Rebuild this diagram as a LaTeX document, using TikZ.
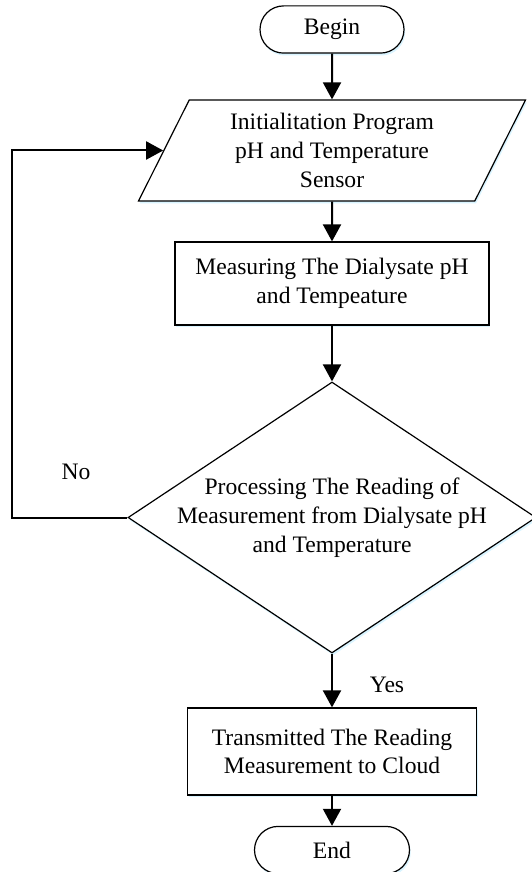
\documentclass[tikz,border=0pt]{standalone}
\usepackage{fontspec}
\setmainfont{Liberation Serif}
\usetikzlibrary{arrows.meta,shapes.geometric,shadows}

\begin{document}
\begin{tikzpicture}[x=0.5pt,y=-0.5pt,>={Triangle[length=8.5pt,width=9pt]},
        font=\fontsize{11.8}{14.4}\selectfont,
        shade/.style={drop shadow={shadow xshift=0.6pt,shadow yshift=-1.2pt,fill=blue!30!cyan!25,opacity=0.6}},
        box/.style={draw,line width=0.6pt,fill=white,align=center,inner sep=0pt,shade},
        terminal/.style={box,rectangle,rounded corners=11.8pt,minimum height=23.6pt},
        io/.style={box,trapezium,trapezium left angle=62,trapezium right angle=118,
                   trapezium stretches body,inner ysep=5.3pt,minimum width=193.5pt,minimum height=50.5pt},
        process/.style={box,rectangle},
        decision/.style={box,diamond,minimum width=204pt,minimum height=135.5pt},
        flow/.style={->,line width=1pt}]

        % fix the size of the page
        \useasboundingbox (0,0) rectangle (531,872);

        % draw the blocks
        \node[terminal,minimum width=72pt] (begin) at (332,29.5) {Begin};
        \node[io] (init) at (332,150.5) {Initialitation Program\\pH and Temperature\\Sensor};
        \node[process,minimum width=157pt,minimum height=41.5pt] (meas) at (332,283.5)
                {Measuring The Dialysate pH\\and Tempeature};
        \node[decision] (proc) at (332,517.5) {};
        \node[align=center] (proctext) at (proc.center)
                {Processing The Reading of\\Measurement from Dialysate pH\\and Temperature};
        \node[process,minimum width=144.5pt,minimum height=43.5pt] (trans) at (332,751.5)
                {Transmitted The Reading\\Measurement to Cloud};
        \node[terminal,minimum width=77.5pt] (end) at (332,850) {End};

        % draw the arrows
        \draw[flow] (begin) -- (init);
        \draw[flow] (init) -- (meas);
        \draw[flow] (meas) -- (proc);
        \draw[flow] (proc) -- (trans);
        \draw[flow] (trans) -- (end);

        % the way back when the reading is not good
        \coordinate (back) at (12,517.5);
        \draw[flow] (proc.west) -- (back) |- (init.west);

        % draw the answers
        \node (no) at (76,472) {No};
        \node (yes) at (387,685) {Yes};
\end{tikzpicture}
\end{document}
